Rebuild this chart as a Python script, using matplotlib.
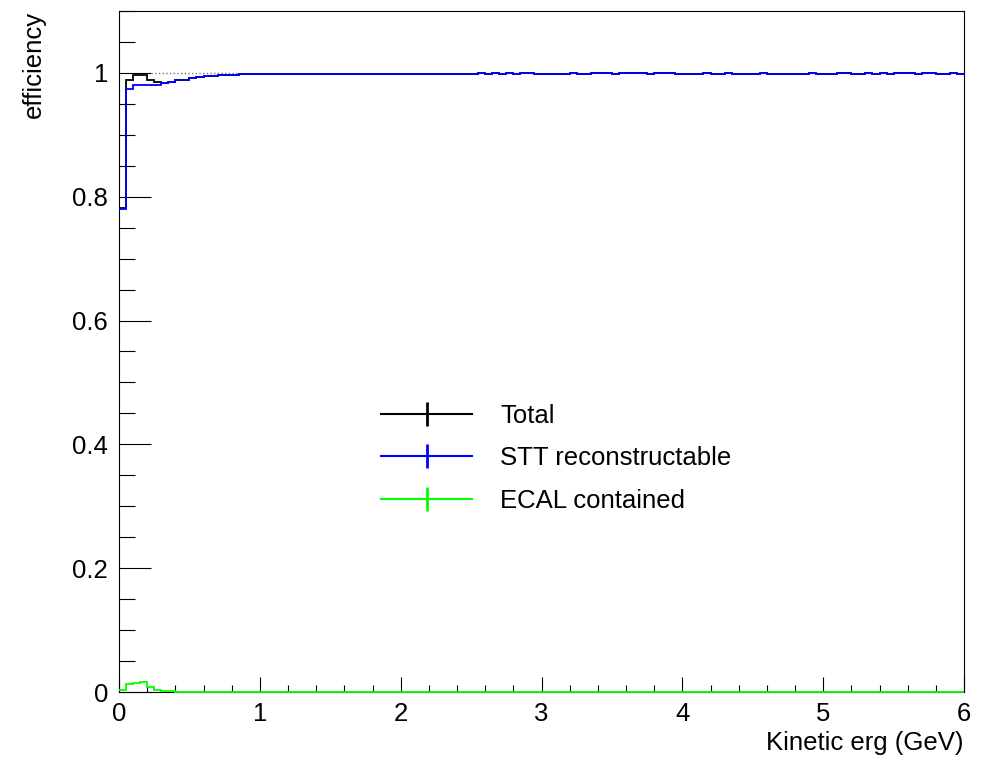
import numpy as np
import matplotlib.pyplot as plt
from matplotlib.lines import Line2D

plt.rcParams['font.family'] = ['Liberation Sans', 'DejaVu Sans']

# 120 bins of 0.05 GeV from 0 to 6 GeV
edges = np.linspace(0.0, 6.0, 121)

total_eff = [
    0.782, 0.988, 0.997, 0.997, 0.989, 0.986, 0.983, 0.986, 0.988, 0.989,
    0.991, 0.993, 0.9945, 0.9955, 0.996, 0.9965, 0.997, 0.9975, 0.9975, 0.9975,
    0.9975, 0.9975, 0.9975, 0.9975, 0.9975, 0.9975, 0.9975, 0.9975, 0.9975, 0.9975,
    0.9975, 0.9975, 0.9975, 0.9975, 0.9975, 0.9975, 0.9975, 0.9975, 0.9975, 0.9975,
    0.9975, 0.9975, 0.9975, 0.9975, 0.9975, 0.9975, 0.9975, 0.9975, 0.9975, 0.9975,
    0.9975, 1.0, 0.9975, 1.0, 0.9975, 1.0, 0.9975, 1.0, 1.0, 0.9975,
    0.9975, 0.9975, 0.9975, 0.9975, 1.0, 0.9975, 0.9975, 1.0, 1.0, 1.0,
    0.9975, 1.0, 1.0, 1.0, 1.0, 0.9975, 1.0, 1.0, 1.0, 0.9975,
    0.9975, 0.9975, 0.9975, 1.0, 0.9975, 0.9975, 1.0, 0.9975, 0.9975, 0.9975,
    0.9975, 1.0, 0.9975, 0.9975, 0.9975, 0.9975, 0.9975, 0.9975, 1.0, 0.9975,
    0.9975, 0.9975, 1.0, 1.0, 0.9975, 0.9975, 1.0, 0.9975, 1.0, 0.9975,
    1.0, 1.0, 1.0, 0.9975, 1.0, 1.0, 0.9975, 0.9975, 1.0, 0.9975,
]

# STT reconstructable differs from total only in the first few bins
stt_low = [0.780, 0.974, 0.981, 0.981, 0.981, 0.981, 0.983]
stt_eff = stt_low + total_eff[len(stt_low):]

ecal_eff = [
    0.0032, 0.0129, 0.0140, 0.0161, 0.0086, 0.0032, 0.0011, 0.0011, 0.0004, 0.0004,
    0.0004, 0.0004, 0.0004, 0.0004, 0.0004, 0.0004, 0.0, 0.0004, 0.0, 0.0,
] + [0.0] * 100

# dotted upper error band at unity for the low-energy bins
err_x = (0.23, 0.85)

labels = ["Total", "STT reconstructable", "ECAL contained"]
colors = ["black", "#0000ff", "#00ff00"]

fig = plt.figure(figsize=(9.89, 7.57), dpi=100)
ax = fig.add_axes([119 / 989, 65 / 757, 845 / 989, 681 / 757])

ax.hlines(1.0, err_x[0], err_x[1], colors='#777777', linestyles=':', linewidth=1.0)
for vals, c in zip([total_eff, stt_eff, ecal_eff], colors):
    ax.stairs(vals, edges, color=c, linewidth=1.3, baseline=None,
              zorder=3, clip_on=False)

ax.set_xlim(0, 6)
ax.set_ylim(0, 1.1)
ax.set_xticks(np.arange(0, 7, 1))
ax.set_xticks(np.arange(0, 6.01, 0.2), minor=True)
ax.set_yticks(np.arange(0, 1.01, 0.2))
ax.set_yticks(np.arange(0, 1.101, 0.05), minor=True)
ax.set_xticklabels(["0", "1", "2", "3", "4", "5", "6"])
ax.set_yticklabels(["0", "0.2", "0.4", "0.6", "0.8", "1"])
ax.tick_params(axis='x', which='major', direction='in', length=14.7 * 0.72, width=0.8,
               labelsize=18.5, pad=7)
ax.tick_params(axis='x', which='minor', direction='in', length=7 * 0.72, width=0.8)
ax.tick_params(axis='y', which='major', direction='in', length=32 * 0.72, width=0.8,
               labelsize=18.5, pad=8)
ax.tick_params(axis='y', which='minor', direction='in', length=16 * 0.72, width=0.8)
for s in ax.spines.values():
    s.set_linewidth(0.8)

ax.set_xlabel("Kinetic erg (GeV)", fontsize=18.5, loc='right', labelpad=4)
ax.set_ylabel("efficiency", fontsize=18.5, loc='top', labelpad=0)
ax.yaxis.set_label_coords(-0.087, 1.0)

handles = [Line2D([], [], color=c, linewidth=1.5, marker='|', markersize=17,
                  markeredgewidth=2) for c in colors]
ax.legend(handles, labels, loc='center left', bbox_to_anchor=(0.31, 0.343),
          frameon=False, fontsize=18.5, handlelength=3.55, handletextpad=1.1,
          labelspacing=0.72, borderpad=0, borderaxespad=0)

fig.savefig("out.png", dpi=100)
